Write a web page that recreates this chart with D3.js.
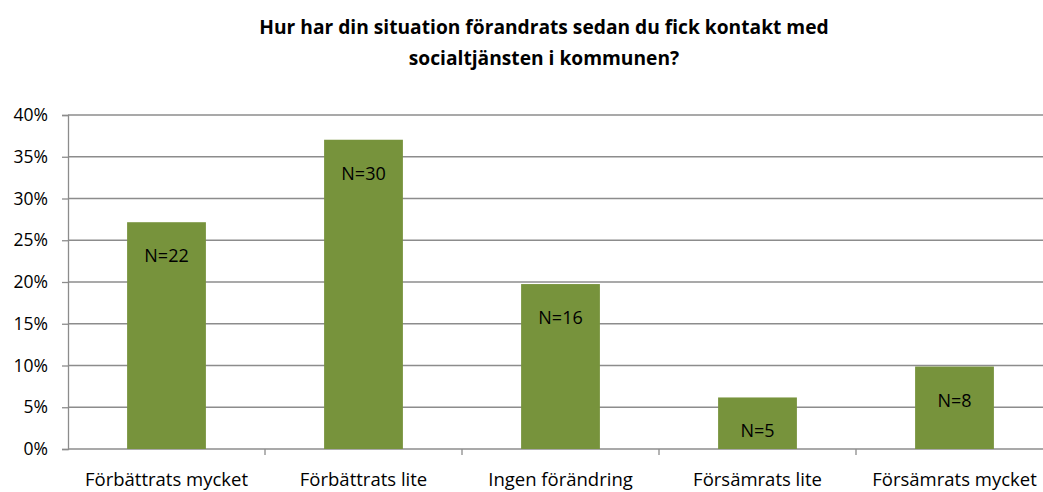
<!DOCTYPE html>
<html>
<head>
<meta charset="utf-8">
<script src="https://cdn.jsdelivr.net/npm/d3@7"></script>
<style>
  body { margin: 0; background: #fff; }
  svg { display: block; font-family: "Open Sans", "Noto Sans", sans-serif; }
</style>
</head>
<body>
<svg id="chart"></svg>
<script>
const categories = ["Förbättrats mycket", "Förbättrats lite", "Ingen förändring", "Försämrats lite", "Försämrats mycket"];
const counts = [22, 30, 16, 5, 8];
const yTicks = [0, 0.05, 0.10, 0.15, 0.20, 0.25, 0.30, 0.35, 0.40];
const titleLines = ["Hur har din situation förandrats sedan du fick kontakt med", "socialtjänsten i kommunen?"];

const width = 1043, height = 492;
const total = d3.sum(counts);
const shares = counts.map(c => c / total);

const svg = d3.select("#chart").attr("width", width).attr("height", height);

const x = d3.scaleBand().domain(categories).range([68, 1053]).paddingInner(0.6).paddingOuter(0.3);
const y = d3.scaleLinear().domain([0, 0.4]).range([449, 115]);

// gridlines
svg.append("g")
  .selectAll("line")
  .data(yTicks.slice(1))
  .enter().append("line")
  .attr("x1", 68).attr("x2", width)
  .attr("y1", d => y(d)).attr("y2", d => y(d))
  .attr("stroke", "#8c8c8c").attr("stroke-width", 1.3);

// y axis
const yAxis = svg.append("g")
  .attr("transform", "translate(68,0)")
  .call(d3.axisLeft(y).tickValues(yTicks).tickFormat(d3.format(".0%")).tickSize(6).tickPadding(14));
yAxis.select(".domain").attr("stroke", "#8c8c8c").attr("stroke-width", 1.3);
yAxis.selectAll(".tick line").attr("stroke", "#8c8c8c").attr("stroke-width", 1.3);
yAxis.selectAll("text").attr("font-size", 17.5).attr("fill", "#000").attr("font-family", "Open Sans, sans-serif");

// x axis
const xAxis = svg.append("g")
  .attr("transform", "translate(0,449)")
  .call(d3.axisBottom(x).tickSize(0).tickPadding(24));
xAxis.select(".domain").remove();
xAxis.selectAll("text").attr("font-size", 18.5).attr("fill", "#000").attr("font-family", "Open Sans, sans-serif");

svg.append("line")
  .attr("x1", 68).attr("x2", width).attr("y1", 449).attr("y2", 449)
  .attr("stroke", "#8c8c8c").attr("stroke-width", 1.3);

// boundary ticks between categories
svg.append("g").selectAll("line")
  .data(categories.slice(1))
  .enter().append("line")
  .attr("x1", d => x(d) - x.step() * x.paddingInner() / 2)
  .attr("x2", d => x(d) - x.step() * x.paddingInner() / 2)
  .attr("y1", 449).attr("y2", 455)
  .attr("stroke", "#8c8c8c").attr("stroke-width", 1.3);

// bars
svg.append("g").selectAll("rect")
  .data(categories)
  .enter().append("rect")
  .attr("x", d => x(d))
  .attr("width", x.bandwidth())
  .attr("y", (d, i) => y(shares[i]))
  .attr("height", (d, i) => 449 - y(shares[i]))
  .attr("fill", "#77933c");

// labels
svg.append("g").selectAll("text")
  .data(categories)
  .enter().append("text")
  .attr("x", d => x(d) + x.bandwidth() / 2)
  .attr("y", (d, i) => y(shares[i]) + 40)
  .attr("text-anchor", "middle")
  .attr("font-size", 18)
  .attr("fill", "#000")
  .text((d, i) => "N=" + counts[i]);

// title
svg.append("g").selectAll("text")
  .data(titleLines)
  .enter().append("text")
  .attr("x", 544)
  .attr("y", (d, i) => 34 + i * 31)
  .attr("text-anchor", "middle")
  .attr("font-size", 19.2)
  .attr("font-weight", "bold")
  .attr("fill", "#000")
  .text(d => d);
</script>
</body>
</html>
